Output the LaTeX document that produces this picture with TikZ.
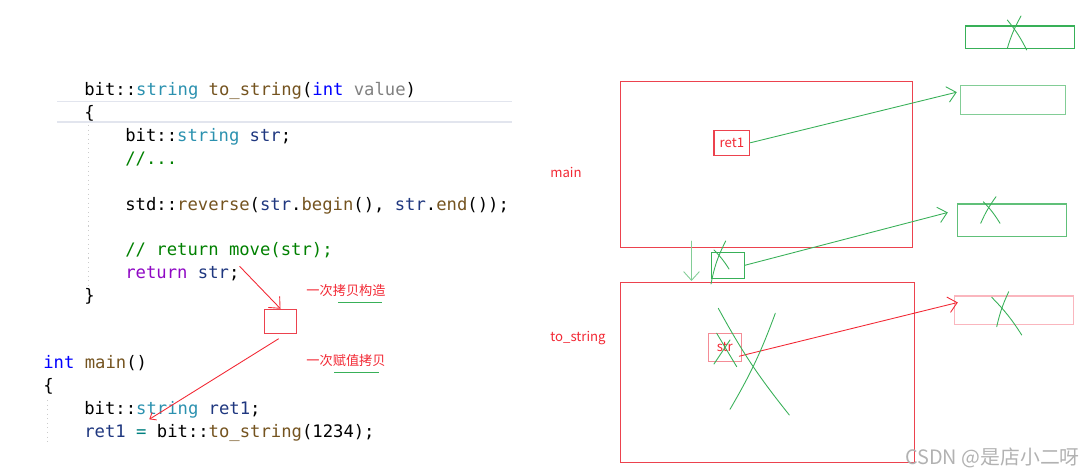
\documentclass[tikz,border=0pt]{standalone}
\usepackage{fontspec}
\setmonofont{DejaVu Sans Mono}
\newfontfamily\cjk{Noto Sans CJK SC}
\usepackage{xcolor}
\definecolor{vstype}{RGB}{43,145,175}
\definecolor{vsfunc}{RGB}{116,83,31}
\definecolor{vskey}{RGB}{0,0,255}
\definecolor{vsparam}{RGB}{128,128,128}
\definecolor{vsvar}{RGB}{31,55,127}
\definecolor{vscomm}{RGB}{0,128,0}
\definecolor{vsret}{RGB}{143,8,196}
\definecolor{vsop}{RGB}{0,128,128}
\definecolor{frred}{RGB}{236,66,78}
\definecolor{frpink}{RGB}{244,140,150}
\definecolor{frlight}{RGB}{250,182,190}
\definecolor{penred}{RGB}{242,40,52}
\definecolor{pengreen}{RGB}{56,176,88}
\definecolor{penlight}{RGB}{130,205,150}
\definecolor{wmgray}{RGB}{178,178,178}
\definecolor{hlgray}{RGB}{226,229,238}
\usepackage{tikz}
\usetikzlibrary{arrows.meta, fit, calc}

\newcommand{\codefont}{\ttfamily\fontsize{9.8}{11.6}\selectfont}
\newcommand{\labfont}{\cjk\fontsize{7.5}{9}\selectfont}
\newcommand{\cty}[1]{\textcolor{vstype}{#1}}
\newcommand{\cfn}[1]{\textcolor{vsfunc}{#1}}
\newcommand{\ckw}[1]{\textcolor{vskey}{#1}}
\newcommand{\cpa}[1]{\textcolor{vsparam}{#1}}
\newcommand{\cva}[1]{\textcolor{vsvar}{#1}}
\newcommand{\ccm}[1]{\textcolor{vscomm}{#1}}
\newcommand{\cret}[1]{\textcolor{vsret}{#1}}
\newcommand{\cop}[1]{\textcolor{vsop}{#1}}

\tikzset{
  code/.style={anchor=base west, inner sep=0pt, font=\codefont},
  frame/.style={draw=frred, line width=0.6pt, inner sep=0pt},
  varbox/.style={draw=#1, line width=0.6pt, inner sep=0pt},
  varlab/.style={font=\labfont, text=penred},
  note/.style={font=\labfont, text=penred},
  pen/.style={line width=0.5pt, line cap=round},
  barb/.style={-{Straight Barb[length=5pt, width=9pt]}},
}

\begin{document}
\begin{tikzpicture}[x=0.02cm, y=-0.02cm]
  \useasboundingbox (0,0) rectangle (1087,475);

  % --- Code listing ---
  \draw[hlgray, line width=0.6pt] (57,101.7) -- (512,101.7);
  \draw[hlgray, line width=0.6pt] (57,122) -- (512,122);
  \draw[gray!40, dotted, line width=0.6pt] (88.3,125) -- (88.3,285);
  \draw[gray!40, dotted, line width=0.6pt] (47.5,400) -- (47.5,445);

  \node[code] (lsig) at (84,95.7) {bit::\cty{string} \cfn{to\_string}(\ckw{int} \cpa{value})};
  \node[code] (lopen) at (84,118.6) {\{};
  \node[code] (lstr) at (125,141.5) {bit::\cty{string} \cva{str};};
  \node[code] (ldots) at (125,164.4) {\ccm{//...}};
  \node[code] (lrev) at (125,210.2) {std::\cfn{reverse}(\cva{str}.\cfn{begin}(), \cva{str}.\cfn{end}());};
  \node[code] (lmove) at (125,256.0) {\ccm{// return move(str);}};
  \node[code] (lret) at (125,278.9) {\cret{return} \cva{str};};
  \node[code] (lclose) at (84,301.8) {\}};

  \node[code] (lmain) at (43,369) {\ckw{int} \cfn{main}()};
  \node[code] (lmopen) at (43,392) {\{};
  \node[code] (lret1) at (84,415) {bit::\cty{string} \cva{ret1};};
  \node[code] (lcall) at (84,438) {\cva{ret1} \cop{=} bit::\cfn{to\_string}(1234);};

  % --- Notes on the code ---
  \node[fit={(264.3,309.3) (296.7,333.3)}, varbox=frred] (cpybox) {};
  \node[note] (ncopy) at (346,290.7) {一次拷贝构造};
  \node[note] (nassign) at (346,360.7) {一次赋值拷贝};
  \draw[pengreen, line width=0.6pt] (338.3,302.3) -- (382.3,302.3);
  \draw[pengreen, line width=0.6pt] (334,372.3) -- (379.3,372.3);
  \coordinate (asgn) at (149.3,419.3);
  \draw[pen, penred, barb] (lret.north east) -- (cpybox.north);
  \draw[pen, penred, -{Straight Barb[length=3pt, width=5pt]}] ($(cpybox.south)+(-2,5)$) -- (asgn);

  % --- Stack frames ---
  \node[fit={(620.3,81.3) (912.3,247.3)}, frame] (mainbox) {};
  \node[fit={(620.3,282.3) (914.3,462.7)}, frame] (tsbox) {};
  \node[font=\labfont, text=penred] (lmainf) at (566,172.7) {main};
  \node[font=\labfont, text=penred] (ltsf) at (578,337.7) {to\_string};

  \node[fit={(714,130.3) (749.7,155.3)}, varbox=frred, label={[varlab]center:ret1}] (r1box) {};
  \node[fit={(708.3,333.3) (741.3,361.7)}, varbox=frpink, label={[varlab]center:str}] (strbox) {};
  \node[fit={(711.3,252.3) (744.3,278.3)}, varbox=pengreen] (tmpbox) {};

  % --- Heap blocks ---
  \node[fit={(965.3,26) (1074.3,48.3)}, varbox=pengreen] (heapA) {};
  \node[fit={(960.3,85.7) (1065.3,114.3)}, varbox=penlight] (heapB) {};
  \node[fit={(957.3,204) (1066.3,236.7)}, varbox=pengreen!80] (heapC) {};
  \node[fit={(954.3,296) (1073.3,324.3)}, varbox=frlight] (heapD) {};

  % --- Pointers ---
  \draw[pen, pengreen, barb] (r1box.east) -- ($(heapB.north west)+(-3,7)$);
  \draw[pen, pengreen, barb] (tmpbox.east) -- ($(heapC.north west)+(-9,9)$);
  \draw[pen, penred, barb] ($(strbox.south east)+(-2.6,-6)$) -- ($(heapD.north west)+(4,7)$);
  \coordinate (dtop) at (691.5,241);
  \coordinate (dbot) at (691.5,281);
  \draw[pen, penlight, barb] (dtop) -- (dbot);

  % --- Crossed out ---
  \draw[pen, pengreen] (1007.3,20) to[bend left=6] (1026.7,50);
  \draw[pen, pengreen] (1021,16) to[bend right=6] (1007.3,48.3);
  \draw[pen, pengreen] (983.3,201.7) to[bend left=6] (1000,223.3);
  \draw[pen, pengreen] (996,196.7) to[bend right=6] (980.7,223.3);
  \draw[pen, pengreen] (991.7,297.3) to[bend left=6] (1021.7,335);
  \draw[pen, pengreen] (1008.7,291.7) to[bend right=6] (996.7,326.7);
  \draw[pen, pengreen] (725.7,241) to[bend right=8] (711,284);
  \draw[pen, pengreen] (714,250) to[bend left=6] (729,269);
  \draw[pen, pengreen] (718.3,308.3) to[bend right=5] (789.3,415);
  \draw[pen, pengreen] (775.3,313.3) to[bend left=5] (730,409.3);
  \draw[pen, pengreen] (716.7,333.3) -- (736.7,366.7);
  \draw[pen, pengreen] (730,340) -- (714,364);

  % Watermark
  \node[font=\cjk\fontsize{11.3}{13}\selectfont, text=wmgray] (wm) at (992.5,458.3) {CSDN @是店小二呀};
\end{tikzpicture}
\end{document}
